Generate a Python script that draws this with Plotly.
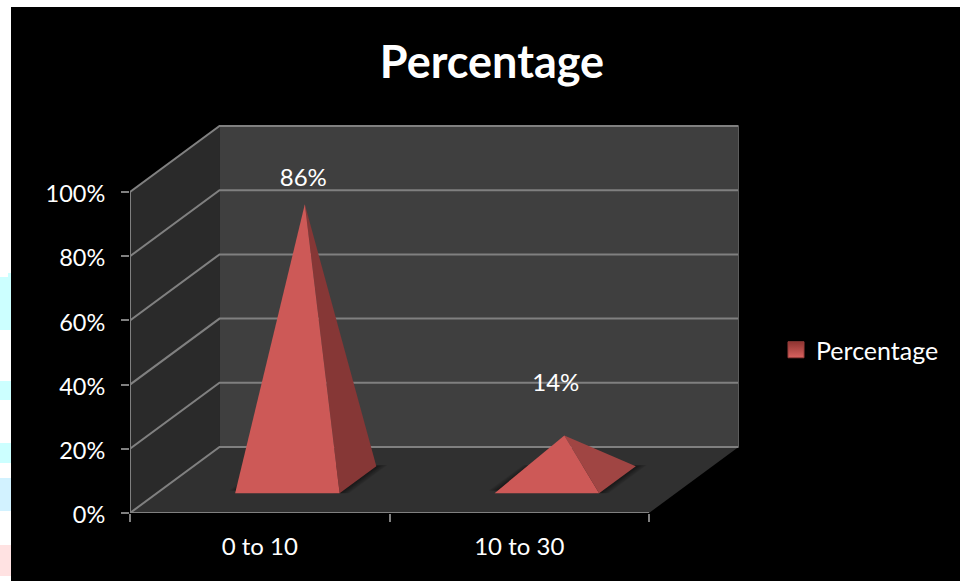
import plotly.graph_objects as go

# Chart data
categories = ["0 to 10", "10 to 30"]
percentages = [86, 14]
y_ticks = [0, 20, 40, 60, 80, 100]
series_name = "Percentage"

# Canvas and oblique projection settings (pixels)
WIDTH, HEIGHT = 960, 581
LEFT, BOTTOM = 130, 513
CAT_PX = 259.5
PCT_PX = 3.21
DEPTH_X_PX, DEPTH_Y_PX = 89.5, 66
DX = DEPTH_X_PX / CAT_PX
DY = DEPTH_Y_PX / PCT_PX

FONT = "Lato"
GRID = "#808080"
FRONT_FACE = "#CD5957"
SIDE_FACES = ["#863736", "#A04543"]
LABEL_LIFT = [24.5, 50.5]
LABEL_SHIFT = [-1.5, -8.5]


def project(cat, value, depth):
    """Map (category position, percent, depth 0..1) to the flat axes."""
    return cat + depth * DX, value + depth * DY


def polygon(corners, color):
    pts = [project(*c) for c in corners]
    pts.append(pts[0])
    return go.Scatter(
        x=[p[0] for p in pts], y=[p[1] for p in pts],
        mode="lines", fill="toself", fillcolor=color,
        line=dict(width=0), hoverinfo="skip", showlegend=False,
    )


def segment(corners, color=GRID, width=2):
    pts = [project(*c) for c in corners]
    return go.Scatter(
        x=[p[0] for p in pts], y=[p[1] for p in pts],
        mode="lines", line=dict(color=color, width=width),
        hoverinfo="skip", showlegend=False, cliponaxis=False,
    )


n_cat = len(categories)
traces = []

# Walls and floor
traces.append(polygon([(0, 0, 0), (0, 100, 0), (0, 100, 1), (0, 0, 1)], "#2A2A2A"))
traces.append(polygon([(0, 0, 1), (0, 100, 1), (n_cat, 100, 1), (n_cat, 0, 1)], "#3F3F3F"))
traces.append(polygon([(0, 0, 0), (n_cat, 0, 0), (n_cat, 0, 1), (0, 0, 1)], "#303030"))

# Gridlines run along the side wall, then across the back wall
for tick in y_ticks:
    traces.append(segment([(0, tick, 0), (0, tick, 1), (n_cat, tick, 1)]))
traces.append(segment([(n_cat, 0, 1), (n_cat, 100, 1)], "#5C5C5C", 1))
traces.append(segment([(0, 0, 0), (0, 100, 0)]))
traces.append(segment([(0, 0, 0), (n_cat, 0, 0)]))

# Pyramids with a soft floor shadow
HALF_W = 0.2013
D0, D1 = 0.30, 0.71
APEX_DEPTH = 0.495
apexes = []
for i, value in enumerate(percentages):
    c = i + 0.503
    for grow in (0.036, 0.03, 0.024, 0.018, 0.012, 0.006):
        traces.append(polygon(
            [(c - HALF_W - grow, 0, D0 + 0.04), (c + HALF_W + grow, 0, D0),
             (c + HALF_W + grow, 0, D1 + grow * 0.5), (c - HALF_W - grow, 0, D1 + grow * 0.5)],
            "rgba(0,0,0,0.09)",
        ))
    apex = (c, value, APEX_DEPTH)
    traces.append(polygon([(c + HALF_W, 0, D0), (c + HALF_W, 0, D1), apex], SIDE_FACES[i]))
    traces.append(polygon([(c - HALF_W, 0, D0), (c + HALF_W, 0, D0), apex], FRONT_FACE))
    apexes.append(project(*apex))

# Value labels above each pyramid
traces.append(go.Scatter(
    x=[a[0] + s / CAT_PX for a, s in zip(apexes, LABEL_SHIFT)],
    y=[a[1] + l / PCT_PX for a, l in zip(apexes, LABEL_LIFT)],
    mode="text", text=[f"{v}%" for v in percentages],
    textposition="middle center",
    textfont=dict(family=FONT, size=24, color="#FFFFFF"),
    hoverinfo="skip", showlegend=False,
))

# Legend entry for the series
traces.append(go.Scatter(
    x=[None], y=[None], mode="markers", name=series_name,
    marker=dict(symbol="square", size=16, color="#8F3431",
                gradient=dict(type="vertical", color="#D9625F"),
                line=dict(color="#963C3A", width=1)),
    showlegend=True,
))


def px_x(px):
    return (px - LEFT) / (WIDTH - LEFT)


def px_y(px):
    return (BOTTOM - px) / BOTTOM


def panel(x0, y0, x1, y1, color):
    return dict(type="rect", xref="paper", yref="paper", layer="below",
                x0=px_x(x0), x1=px_x(x1), y0=px_y(y0), y1=px_y(y1),
                fillcolor=color, line=dict(width=0))


# Dark panel over a white page, with tinted slivers down the left margin
shapes = [
    panel(11, 7, WIDTH, HEIGHT, "#000000"),
    panel(0, 277, 11, 330, "#CCFFFF"),
    panel(8, 273, 11, 277, "#CCFFFF"),
    panel(0, 381, 11, 400, "#CCFFFF"),
    panel(0, 443, 11, 463, "#CCFFFF"),
    panel(0, 478, 11, 511, "#D2F2FF"),
    panel(0, 545, 11, 576, "#FFE2E2"),
]

fig = go.Figure(traces)
fig.update_layout(
    width=WIDTH, height=HEIGHT, autosize=False,
    margin=dict(l=LEFT, r=0, t=0, b=HEIGHT - BOTTOM, pad=0),
    paper_bgcolor="#FFFFFF", plot_bgcolor="rgba(0,0,0,0)",
    font=dict(family=FONT, color="#FFFFFF"),
    shapes=shapes,
    title=dict(
        text=f"<b>{series_name}</b>", x=492 / WIDTH, y=1 - 62 / HEIGHT,
        xref="container", yref="container", xanchor="center", yanchor="middle",
        font=dict(family=FONT, size=45, color="#FFFFFF"),
    ),
    legend=dict(
        x=px_x(776), y=px_y(350), xanchor="left", yanchor="middle",
        bgcolor="rgba(0,0,0,0)", borderwidth=0,
        font=dict(family=FONT, size=25, color="#FFFFFF"),
    ),
    xaxis=dict(
        range=[0, (WIDTH - LEFT) / CAT_PX], showgrid=False, zeroline=False,
        showline=False, fixedrange=True,
        tickmode="array", tickvals=[i + 0.5 for i in range(n_cat)], ticktext=categories,
        ticks="", ticklabelstandoff=17,
        tickfont=dict(family=FONT, size=24, color="#FFFFFF"),
        minor=dict(tickmode="array", tickvals=list(range(n_cat + 1)), ticks="outside",
                   ticklen=8, tickwidth=2, tickcolor=GRID, showgrid=False),
    ),
    yaxis=dict(
        range=[0, BOTTOM / PCT_PX], showgrid=False, zeroline=False,
        showline=False, fixedrange=True,
        tickmode="array", tickvals=y_ticks, ticktext=[f"{t}%" for t in y_ticks],
        ticks="outside", ticklen=8, tickwidth=2, tickcolor=GRID,
        ticklabelstandoff=11, ticklabelshift=2,
        tickfont=dict(family=FONT, size=23.5, color="#FFFFFF"),
    ),
)

fig.write_html("out.html", config=dict(displayModeBar=False))
